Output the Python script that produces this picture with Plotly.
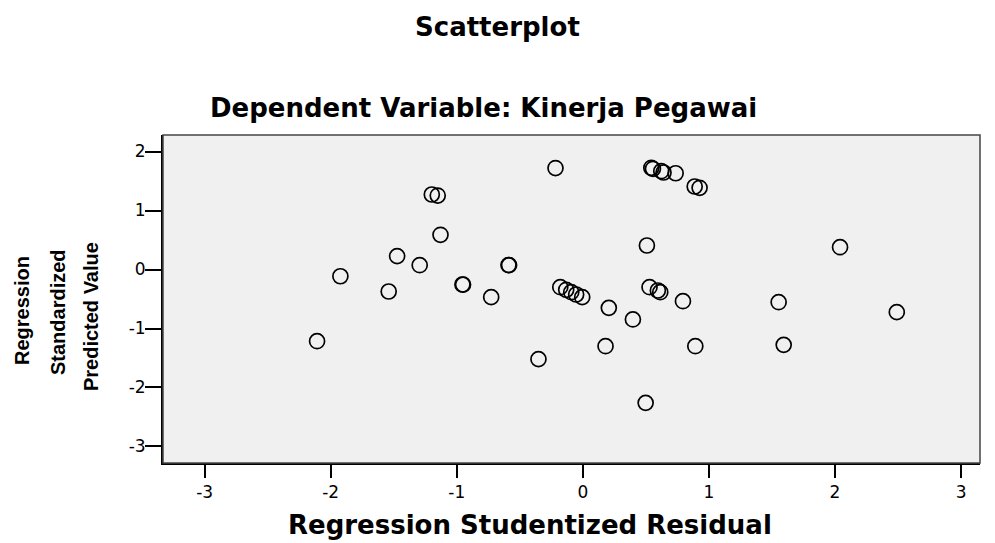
import plotly.graph_objects as go

# Regression Studentized Residual (x) and Regression Standardized Predicted Value (y)
residual = [
    -1.923, -1.540, -1.473, -1.294, -1.198, -1.151, -1.129, -0.955, -0.950,
    -0.727, -0.590, -0.585, -0.217, -0.179, -0.132, -0.092, -0.053, -0.005,
    0.543, 0.556, 0.622, 0.640, 0.736, 0.887, 0.926, 0.508, 2.040,
    0.529, 0.595, 0.614, 0.794, 1.553, 0.206, 0.397, 2.490,
    -2.108, -0.352, 0.180, 0.892, 1.593, 0.498,
]
predicted = [
    -0.114, -0.373, 0.226, 0.073, 1.271, 1.254, 0.588, -0.254, -0.256,
    -0.469, 0.075, 0.073, 1.720, -0.300, -0.344, -0.385, -0.424, -0.469,
    1.724, 1.707, 1.666, 1.644, 1.632, 1.407, 1.385, 0.407, 0.378,
    -0.300, -0.356, -0.385, -0.537, -0.554, -0.650, -0.847, -0.723,
    -1.215, -1.520, -1.300, -1.300, -1.277, -2.260,
]
x_ticks = [-3, -2, -1, 0, 1, 2, 3]
x_tick_labels = ["-3", "-2", "-1", "0", "1", "2", "3"]
y_ticks = [-3, -2, -1, 0, 1, 2]
y_tick_labels = ["-3", "-2", "-1", "0", "1", "2"]
y_title_lines = ["Regression", "Standardized", "Predicted Value"]

fig = go.Figure()
fig.add_trace(go.Scatter(
    x=residual, y=predicted, mode="markers",
    marker=dict(symbol="circle-open", size=15, color="black",
                line=dict(width=1.7, color="black")),
    showlegend=False, hoverinfo="x+y",
))

wide = "DejaVu Sans, Verdana, sans-serif"
arial = "Liberation Sans, Arial, sans-serif"

annotations = [
    dict(text="<b>Scatterplot</b>", xref="paper", yref="paper", x=0.409, y=1.329,
         xanchor="center", yanchor="middle", showarrow=False,
         font=dict(size=26, family=wide)),
    dict(text="<b>Dependent Variable: Kinerja Pegawai</b>", xref="paper", yref="paper",
         x=0.392, y=1.082, xanchor="center", yanchor="middle", showarrow=False,
         font=dict(size=26, family=wide)),
    dict(text="<b>Regression Studentized Residual</b>", xref="paper", yref="paper",
         x=0.449, y=-0.189, xanchor="center", yanchor="middle", showarrow=False,
         font=dict(size=26, family=wide)),
]
y_line_x = [-0.1726, -0.1285, -0.0881]
y_line_y = [0.4665, 0.4604, 0.445]
for txt, lx, ly in zip(y_title_lines, y_line_x, y_line_y):
    annotations.append(dict(
        text="<b>%s</b>" % txt, xref="paper", yref="paper", x=lx, y=ly,
        xanchor="center", yanchor="middle", showarrow=False, textangle=-90,
        font=dict(size=20, family=arial)))

fig.update_layout(
    width=995, height=543,
    margin=dict(l=155, r=23, t=127, b=88),
    paper_bgcolor="white", plot_bgcolor="#f0f0f0",
    font=dict(family=wide, color="black", size=15),
    xaxis=dict(range=[-3.33, 3.15], tickvals=x_ticks, ticktext=x_tick_labels,
               showgrid=False, zeroline=False, showline=True, linecolor="black",
               linewidth=2, mirror=False, ticks="outside", ticklen=13, tickwidth=2,
               tickcolor="black", tickfont=dict(size=17, family=wide)),
    yaxis=dict(range=[-3.28, 2.28], tickvals=y_ticks, ticktext=y_tick_labels,
               showgrid=False, zeroline=False, showline=True, linecolor="black",
               linewidth=2, mirror=False, ticks="outside", ticklen=16, tickwidth=2,
               tickcolor="black", tickfont=dict(size=17, family=wide),
               ticklabelstandoff=-4),
    shapes=[dict(type="rect", xref="paper", yref="paper", x0=0, y0=0, x1=1, y1=1,
                 line=dict(color="#444444", width=1.5), fillcolor="rgba(0,0,0,0)",
                 layer="above")],
    annotations=annotations,
)

fig.write_html("out.html")
